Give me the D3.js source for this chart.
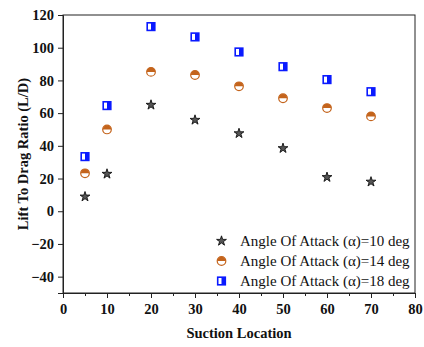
<!DOCTYPE html>
<html>
<head>
<meta charset="utf-8">
<script src="https://cdn.jsdelivr.net/npm/d3@7"></script>
<style>
  body { margin: 0; background: #fff; }
</style>
</head>
<body>
<div id="vis-container"></div>
<script>
// suction locations and L/D values per angle of attack
const locations = [5, 10, 20, 30, 40, 50, 60, 70];
const ld10 = [8.9, 22.8, 65, 55.8, 47.6, 38.5, 20.8, 18];
const ld14 = [23.2, 50, 85.2, 83.3, 76.4, 69.1, 63.1, 58];
const ld18 = [33.4, 64.6, 112.9, 106.6, 97.4, 88.4, 80.5, 73.1];
const seriesNames = [
  "Angle Of Attack (\u03b1)=10 deg",
  "Angle Of Attack (\u03b1)=14 deg",
  "Angle Of Attack (\u03b1)=18 deg"
];
const xTicks = [0, 10, 20, 30, 40, 50, 60, 70, 80];
const yTicks = [-40, -20, 0, 20, 40, 60, 80, 100, 120];

const FONT = '"Liberation Serif", "Times New Roman", serif';
const width = 424, height = 347;
const margin = { top: 15, right: 9, bottom: 54, left: 63 };

const svg = d3.select('#vis-container')
  .append('svg')
  .attr('width', width)
  .attr('height', height)
  .style('font-family', FONT);

const x = d3.scaleLinear().domain([0, 80]).range([margin.left, width - margin.right]);
const y = d3.scaleLinear().domain([-50, 120]).range([height - margin.bottom, margin.top]);

// frame
svg.append('rect')
  .attr('x', x(0)).attr('y', y(120))
  .attr('width', x(80) - x(0)).attr('height', y(-50) - y(120))
  .attr('fill', 'none').attr('stroke', '#222').attr('stroke-width', 1);

// x axis with minor ticks
const xAxis = svg.append('g')
  .attr('transform', `translate(0,${y(-50)})`)
  .call(d3.axisBottom(x).tickValues(xTicks).tickSize(5).tickPadding(6));
svg.append('g')
  .attr('transform', `translate(0,${y(-50)})`)
  .call(d3.axisBottom(x).tickValues(d3.range(5, 80, 10)).tickSize(3).tickFormat(''))
  .call(g => g.selectAll('line').attr('stroke', '#222'))
  .select('.domain').remove();

const yAxis = svg.append('g')
  .attr('transform', `translate(${x(0)},0)`)
  .call(d3.axisLeft(y).tickValues(yTicks).tickSize(5).tickPadding(4));

[xAxis, yAxis].forEach(g => {
  g.attr('font-family', null);
  g.selectAll('path, line').attr('stroke', '#222');
  g.selectAll('text')
    .attr('fill', '#111')
    .style('font-family', FONT)
    .style('font-size', '14.5px')
    .style('font-weight', 'bold');
});

// axis titles
svg.append('text')
  .attr('x', (x(0) + x(80)) / 2).attr('y', 338)
  .attr('text-anchor', 'middle')
  .style('font-family', FONT)
  .style('font-size', '14.5px').style('font-weight', 'bold')
  .attr('fill', '#111')
  .text('Suction Location');

svg.append('text')
  .attr('transform', `translate(28,${(y(-50) + y(120)) / 2}) rotate(-90)`)
  .attr('text-anchor', 'middle')
  .style('font-family', FONT)
  .style('font-size', '14.5px').style('font-weight', 'bold')
  .attr('fill', '#111')
  .text('Lift To Drag Ratio (L/D)');

// marker painters
const star = d3.symbol().type(d3.symbolStar).size(30);
const orange = '#c4641c';
const blue = '#0a1aff';

function drawStar(g) {
  g.append('path').attr('d', star()).attr('fill', '#555').attr('stroke', '#111').attr('stroke-width', 0.9);
}
function drawHalfCircle(g) {
  const r = 4.3;
  g.append('circle').attr('r', r).attr('fill', '#fff');
  g.append('path')
    .attr('d', `M${-r},0 A${r},${r} 0 0 1 ${r},0 Z`)
    .attr('fill', orange);
  g.append('circle').attr('r', r).attr('fill', 'none').attr('stroke', orange).attr('stroke-width', 1.2);
}
function drawHalfSquare(g) {
  const s = 3.8;
  g.append('rect').attr('x', -s).attr('y', -s).attr('width', 2 * s).attr('height', 2 * s)
    .attr('fill', '#fff');
  g.append('rect').attr('x', 0).attr('y', -s).attr('width', s).attr('height', 2 * s)
    .attr('fill', blue);
  g.append('rect').attr('x', -s).attr('y', -s).attr('width', 2 * s).attr('height', 2 * s)
    .attr('fill', 'none').attr('stroke', blue).attr('stroke-width', 1.6);
}

const series = [
  { values: ld10, draw: drawStar },
  { values: ld14, draw: drawHalfCircle },
  { values: ld18, draw: drawHalfSquare }
];

series.forEach(s => {
  svg.append('g')
    .selectAll('g')
    .data(locations.map((loc, i) => [loc, s.values[i]]))
    .enter()
    .append('g')
    .attr('transform', d => `translate(${x(d[0])},${y(d[1])})`)
    .each(function () { s.draw(d3.select(this)); });
});

// legend
const legend = svg.append('g');
series.forEach((s, i) => {
  const row = legend.append('g').attr('transform', `translate(221.5,${241 + i * 20})`);
  s.draw(row);
  row.append('text')
    .attr('x', 18.5).attr('y', 5)
    .style('font-family', FONT)
    .style('font-size', '15px')
    .attr('fill', '#111')
    .text(seriesNames[i]);
});
</script>
</body>
</html>
